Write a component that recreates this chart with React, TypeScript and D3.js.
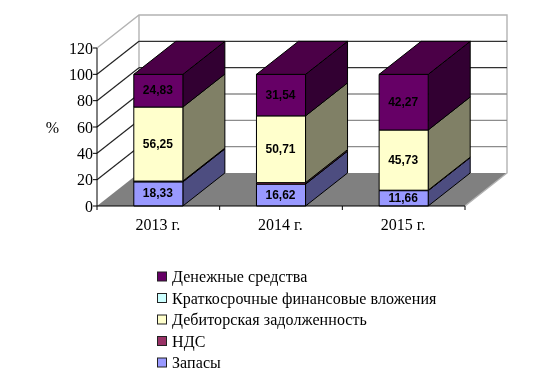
import React from "react";
import * as d3 from "d3";

const categories = ["2013 г.", "2014 г.", "2015 г."];
const stocks = [18.33, 16.62, 11.66];
const vat = [0.59, 1.13, 0.34];
const debtors = [56.25, 50.71, 45.73];
const shortTerm = [0, 0, 0];
const cash = [24.83, 31.54, 42.27];
const yTicks = [0, 20, 40, 60, 80, 100, 120];
const seriesNames = ["Запасы", "НДС", "Дебиторская задолженность", "Краткосрочные финансовые вложения", "Денежные средства"];
const seriesValues = [stocks, vat, debtors, shortTerm, cash];
const seriesColors = ["#9999ff", "#993366", "#ffffcc", "#ccffff", "#660066"];
const sideColors = ["#4d4d80", "#4d1a33", "#808066", "#668080", "#330033"];
const topColors = ["#7373bf", "#732650", "#bfbf99", "#99bfbf", "#4c0047"];
const labelled = [true, false, true, false, true];
const legendOrder = [4, 3, 2, 1, 0];

const dx = 42;
const dy = -33;
const serif = "'Liberation Serif', serif";
const sans = "'Liberation Sans', sans-serif";

export default function App() {
  const x = d3.scaleBand<string>().domain(categories).range([97, 465]).paddingInner(0.6).paddingOuter(0.3);
  const y = d3.scaleLinear().domain([0, 120]).range([206, 48]);
  const legendY = d3.scalePoint<number>().domain(legendOrder).range([277, 363]);
  const pts = (a: number[][]) => a.map((p) => p.join(",")).join(" ");
  const [x0, x1] = x.range();
  const y0 = y(0);
  const yTop = y(120);

  return (
    <svg width={550} height={378} style={{ position: "absolute", left: 0, top: 0, background: "#fff" }}>
      <defs>
        <filter id="soft" x="-5%" y="-5%" width="110%" height="110%">
          <feGaussianBlur stdDeviation="0.3" />
        </filter>
      </defs>
      <g filter="url(#soft)">
      {/* walls */}
      <polygon points={pts([[x0, y0], [x0 + dx, y0 + dy], [x1 + dx, y0 + dy], [x1, y0]])} fill="#808080" />
      <polyline points={pts([[x0, yTop], [x0 + dx, yTop + dy], [x1 + dx, yTop + dy], [x1 + dx, y0 + dy], [x1, y0]])} fill="none" stroke="#b3b3b3" strokeWidth={1.4} />
      <line x1={x0 + dx} x2={x0 + dx} y1={yTop + dy} y2={y0 + dy} stroke="#b3b3b3" strokeWidth={1.4} />
      {yTicks.filter((t) => t > 0 && t < 120).map((t) => (
        <g key={t} fill="none">
          <polyline points={pts([[x0, y(t)], [x0 + dx, y(t) + dy]])} stroke="#222" strokeWidth={1.2} />
          <line x1={x0 + dx} x2={x1 + dx} y1={y(t) + dy} y2={y(t) + dy} stroke={t >= 80 ? "#333" : "#8c8c8c"} strokeWidth={1.4} />
        </g>
      ))}
      {/* bars */}
      {categories.map((c, i) => {
        const left = x(c)!;
        const right = left + x.bandwidth();
        let acc = 0;
        return (
          <g key={c} stroke="#000" strokeWidth={1} strokeLinejoin="round">
            {seriesValues.map((vals, s) => {
              const v = vals[i];
              if (v <= 0) return null;
              const b = y(acc);
              acc += v;
              const t = y(acc);
              return (
                <g key={s}>
                  <polygon points={pts([[right, b], [right + dx, b + dy], [right + dx, t + dy], [right, t]])} fill={sideColors[s]} />
                  <rect x={left} y={t} width={right - left} height={b - t} fill={seriesColors[s]} />
                  {acc > 99 && (
                    <polygon points={pts([[left, t], [left + dx, t + dy], [right + dx, t + dy], [right, t]])} fill={topColors[s]} />
                  )}
                </g>
              );
            })}
          </g>
        );
      })}
      {/* data labels */}
      {categories.map((c, i) => {
        const cx = x(c)! + x.bandwidth() / 2;
        let acc = 0;
        return seriesValues.map((vals, s) => {
          const v = vals[i];
          const mid = acc + v / 2;
          acc += v;
          if (!labelled[s]) return null;
          return (
            <text key={c + s} x={cx - 0.5} y={y(mid) + 3.5} textAnchor="middle" fontFamily={sans} fontSize={12} fontWeight="bold" fill="#000" stroke="none">
              {v.toFixed(2).replace(".", ",")}
            </text>
          );
        });
      })}
      {/* axes */}
      <line x1={x0} x2={x0} y1={yTop} y2={y0} stroke="#000" strokeWidth={1} />
      <line x1={x0} x2={x1} y1={y0} y2={y0} stroke="#000" strokeWidth={1} />
      {yTicks.map((t) => (
        <g key={t}>
          <line x1={x0 - 4} x2={x0} y1={y(t)} y2={y(t)} stroke="#000" />
          <text x={x0 - 2} dx={-2} y={y(t) + 5.5} textAnchor="end" fontFamily={serif} fontSize={16} fill="#000">{t}</text>
        </g>
      ))}
      {d3.range(categories.length + 1).map((i) => {
        const px = x0 + ((x1 - x0) * i) / categories.length;
        return <line key={i} x1={px} x2={px} y1={y0} y2={y0 + 4} stroke="#000" />;
      })}
      {categories.map((c) => (
        <text key={c} x={x(c)! + x.bandwidth() / 2 - 0.5} y={230} textAnchor="middle" fontFamily={serif} fontSize={16} fill="#000">{c}</text>
      ))}
      <text x={52.5} y={133} textAnchor="middle" fontFamily={serif} fontSize={16} fill="#000">%</text>
      {/* legend */}
      {legendOrder.map((s) => (
        <g key={s}>
          <rect x={157.5} y={legendY(s)! - 5} width={9} height={9} fill={seriesColors[s]} stroke="#222" strokeWidth={1} />
          <text x={172} y={legendY(s)! + 5} fontFamily={serif} fontSize={16} letterSpacing={0.08} fill="#000">{seriesNames[s]}</text>
        </g>
      ))}
      </g>
    </svg>
  );
}
